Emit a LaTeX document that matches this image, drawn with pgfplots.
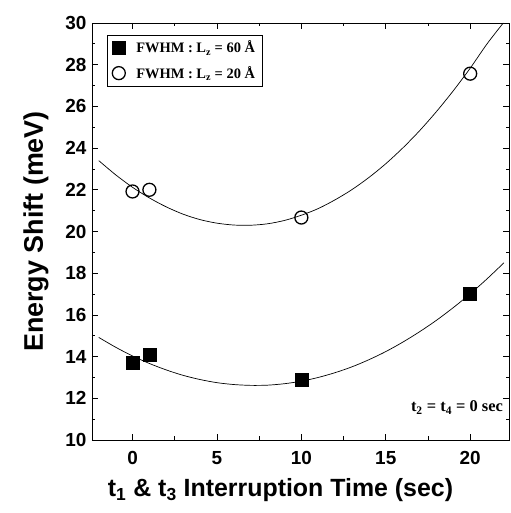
\documentclass[border=0pt]{standalone}
\usepackage{pgfplots}
\pgfplotsset{compat=1.18}
\usepackage{fontspec}
\setmainfont{Liberation Serif}
\setsansfont{Liberation Sans}
\begin{document}
\begin{tikzpicture}
\begin{axis}[
  scale only axis,
  width=417bp, height=417bp,
  xmin=-2.4, xmax=22.3, ymin=10, ymax=30,
  xtick={0,5,10,15,20}, minor xtick={-2.5,2.5,7.5,12.5,17.5,22.5},
  ytick={10,12,...,30}, minor ytick={11,13,...,29},
  tick align=inside, tick pos=both,
  major tick length=6bp, minor tick length=3.5bp,
  every tick/.style={black, line width=0.8pt},
  axis line style={line width=0.9pt},
  /pgf/number format/assume math mode=true,
  ticklabel style={font=\fontsize{19}{19}\selectfont\sffamily\bfseries},
  xticklabel style={yshift=-8bp},
  yticklabel style={xshift=-2bp},
  xlabel={t\textsubscript{1} \& t\textsubscript{3} Interruption Time (sec)},
  ylabel={Energy Shift (meV)},
  xlabel style={font=\fontsize{25}{27}\selectfont\sffamily\bfseries, yshift=-7bp, xshift=-20bp},
  ylabel style={font=\fontsize{27}{29}\selectfont\sffamily\bfseries, yshift=10bp},
  legend style={at={(rel axis cs:0.036,0.972)}, anchor=north west,
    draw=black, line width=0.6pt, font=\fontsize{14.5}{16}\selectfont\bfseries,
    row sep=8bp, inner xsep=5bp, inner ysep=4bp},
  legend cell align=left,
]
\addplot[only marks, mark=square*, mark size=6.5bp, black] coordinates {
 (0,13.73) (1,14.10) (10,12.88) (20,17.04)};
\addlegendentry{\hspace{9bp}FWHM : L\textsubscript{z} = 60 Å}
\addplot[only marks, mark=o, mark size=6.5bp, black, line width=1.3pt] coordinates {
 (0,21.92) (1,22.00) (10,20.67) (20,27.57)};
\addlegendentry{\hspace{9bp}FWHM : L\textsubscript{z} = 20 Å}
\addplot[black, line width=0.7pt, smooth, forget plot] coordinates {
 (-2,14.92) (-1,14.45) (0,14.03) (1,13.67) (2,13.36) (3,13.10) (4,12.90)
 (5,12.75) (6,12.66) (7,12.62) (8,12.63) (9,12.70) (10,12.82) (11,13.00)
 (12,13.23) (13,13.51) (14,13.85) (15,14.24) (16,14.69) (17,15.19)
 (18,15.74) (19,16.35) (20,17.01) (21,17.73) (22,18.50)};
\addplot[black, line width=0.7pt, smooth, forget plot] coordinates {
 (-2,23.40) (-1,22.72) (0,22.12) (1,21.61) (2,21.18) (3,20.83) (4,20.57)
 (5,20.40) (6,20.31) (7,20.30) (8,20.37) (9,20.53) (10,20.78) (11,21.10)
 (12,21.52) (13,22.01) (14,22.59) (15,23.25) (16,24.00) (17,24.83)
 (18,25.75) (19,26.75) (20,27.83) (21,29.00) (21.96,30.0)};
\node[anchor=east, font=\fontsize{16.5}{18}\selectfont\bfseries] at (axis cs:22.15,11.55)
 {t\textsubscript{2} = t\textsubscript{4} = 0 sec};
\end{axis}
\pgfresetboundingbox
\path[use as bounding box] ([shift={(-92bp,-73bp)}]current axis.south west)
  rectangle ([shift={(2bp,23bp)}]current axis.north east);
\end{tikzpicture}
\end{document}
